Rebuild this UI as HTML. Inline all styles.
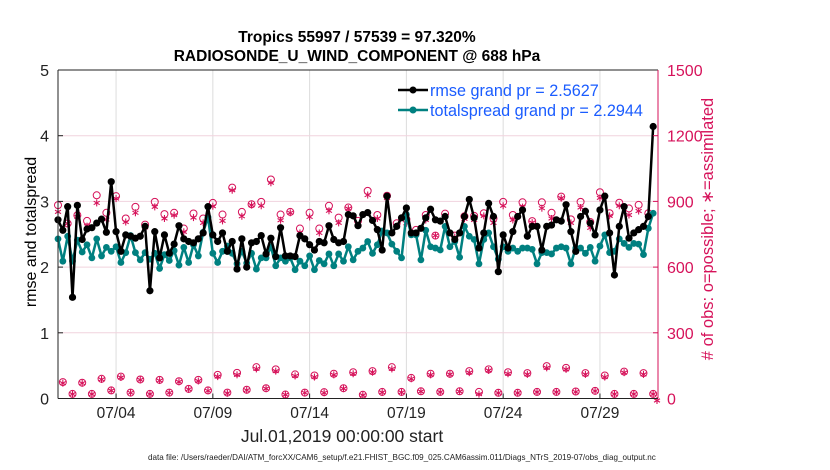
<!DOCTYPE html>
<html><head><meta charset="utf-8"><style>
body{margin:0;background:#fff;}
svg{display:block;font-family:"Liberation Sans",sans-serif;}
</style></head><body>
<svg id="chart" width="830" height="470" viewBox="0 0 830 470">
<rect width="830" height="470" fill="#fff"/>
<g id="grid"></g>
<g id="plot"></g>
<g id="axes"></g>
<text x="357" y="42" text-anchor="middle" font-size="15.5" font-weight="bold">Tropics 55997 / 57539 = 97.320%</text>
<text x="357" y="61" text-anchor="middle" font-size="15.5" font-weight="bold">RADIOSONDE_U_WIND_COMPONENT @ 688 hPa</text>
<text transform="translate(36,232) rotate(-90)" text-anchor="middle" font-size="16">rmse and totalspread</text>
<text transform="translate(713,229) rotate(-90)" text-anchor="middle" font-size="16.5" fill="#d6125a"># of obs: o=possible; ∗=assimilated</text>
<text x="342" y="442" text-anchor="middle" font-size="17.5" fill="#222">Jul.01,2019 00:00:00 start</text>
<text x="148" y="460" font-size="8.1" fill="#222">data file: /Users/raeder/DAI/ATM_forcXX/CAM6_setup/f.e21.FHIST_BGC.f09_025.CAM6assim.011/Diags_NTrS_2019-07/obs_diag_output.nc</text>
<g>
<line x1="398" y1="90" x2="428" y2="90" stroke="#000" stroke-width="2.5"/>
<circle cx="413" cy="90" r="3.5" fill="#000"/>
<text x="430" y="96" font-size="16.2" fill="#1a5cff">rmse grand pr = 2.5627</text>
<line x1="398" y1="110" x2="428" y2="110" stroke="#008080" stroke-width="2.5"/>
<circle cx="413" cy="110" r="3.5" fill="#008080"/>
<text x="430" y="116" font-size="16.2" fill="#1a5cff">totalspread grand pr = 2.2944</text>
</g>
</svg>
<script>
const rmse=[2.72,2.56,2.92,1.54,2.94,2.42,2.58,2.6,2.67,2.73,2.53,3.30,2.54,2.24,2.49,2.47,2.44,2.47,2.62,1.64,2.54,2.14,2.49,2.21,2.35,2.63,2.43,2.39,2.37,2.43,2.52,2.92,2.49,2.39,2.52,2.24,2.39,1.97,2.43,2.0,2.37,2.39,2.48,2.2,2.44,2.16,2.60,2.17,2.17,2.16,2.48,2.43,2.34,2.26,2.39,2.37,2.63,2.42,2.37,2.39,2.80,2.78,
2.63,2.80,2.83,2.71,2.57,2.26,3.08,2.52,2.62,2.75,2.90,2.52,2.52,2.59,2.75,2.88,2.72,2.70,2.77,2.52,2.42,2.52,2.77,3.03,2.75,2.29,2.52,2.97,2.77,1.93,2.49,2.29,2.54,2.77,2.87,2.47,2.62,2.62,2.26,2.62,2.64,2.72,2.70,2.95,2.54,2.24,2.77,2.85,2.67,2.49,2.87,3.08,2.52,1.88,2.62,2.92,2.44,2.52,2.57,2.62,2.77,4.14];
const spread=[2.43,2.09,2.47,2.09,2.41,2.23,2.34,2.14,2.43,2.17,2.30,2.24,2.31,2.07,2.22,2.48,2.22,2.11,2.22,2.12,2.21,1.98,2.19,2.10,2.25,2.03,2.30,2.07,2.34,2.17,2.53,2.76,2.21,2.07,2.24,2.32,2.21,2.05,2.24,2.06,2.21,1.97,2.14,2.14,2.31,2.02,2.14,2.09,2.14,1.96,2.09,2.02,2.17,1.96,2.10,2.05,2.20,2.02,2.20,2.09,2.31,2.11,
2.24,2.29,2.39,2.21,2.34,2.55,2.52,2.35,2.24,2.14,2.80,2.49,2.49,2.11,2.56,2.31,2.29,2.26,2.62,2.31,2.39,2.15,2.62,2.47,2.42,2.05,2.42,2.52,2.31,2.12,2.31,2.24,2.29,2.24,2.29,2.29,2.27,2.05,2.22,2.22,2.20,2.29,2.31,2.29,2.05,2.29,2.29,2.21,2.30,2.09,2.32,2.49,2.22,2.24,2.43,2.36,2.30,2.36,2.35,2.19,2.59,2.82];
const possibleHigh=[883,799,837,811,928,848,924,822,875,794,898,842,848,776,845,822,893,840,963,852,887,898,1000,840,852,776,848,776,880,826,872,
811,948,838,926,800,818,770,838,744,844,744,832,834,846,822,898,838,896,810,896,848,922,818,898,806,942,846,894,868,884,846];
const assimHigh=[852,799,829,787,893,817,913,806,848,781,875,822,837,761,826,802,878,811,951,832,883,880,985,814,848,756,829,756,857,802,867,
790,929,822,915,787,800,754,815,744,832,737,820,815,834,802,880,815,874,803,869,822,915,802,872,779,916,834,880,838,856,830];
const possibleLow=[75,21,72,21,90,37,100,27,87,21,85,27,79,44,85,37,108,27,117,40,143,47,133,18,110,27,105,29,113,47,120,17,125,30,143,30,94,33,113,30,113,33,125,30,133,26,120,26,116,30,148,30,140,32,116,35,105,21,123,21,116,21];
const assimLow=[70,20,70,20,87,36,96,26,85,20,82,26,76,42,80,35,100,24,108,38,135,45,125,17,103,26,98,26,108,45,113,15,120,28,135,28,90,32,108,29,110,32,118,20,128,25,113,25,110,29,140,29,133,30,110,34,98,20,118,20,110,20];
const tickDays=[3,8,13,18,23,28];
const tickLabels=["07/04","07/09","07/14","07/19","07/24","07/29"];
const leftTicks=[0,1,2,3,4,5];
const rightTicks=[0,300,600,900,1200,1500];

const X0=58,X1=658,Y0=398.5,Y1=70,DAYS=31;
const xs=d=>X0+d/DAYS*(X1-X0);
const ys=v=>Y0-v/5*(Y0-Y1);
const yr=c=>Y0-c/1500*(Y0-Y1);
const tOf=i=>i*0.25;
const NS="http://www.w3.org/2000/svg";
function mk(parent,tag,attrs){const e=document.createElementNS(NS,tag);for(const k in attrs)e.setAttribute(k,attrs[k]);parent.appendChild(e);return e;}
const grid=document.getElementById('grid'),plot=document.getElementById('plot'),axes=document.getElementById('axes');
const RED="#d6125a";

tickDays.forEach((d,k)=>{
 const g=mk(grid,'line',{x1:xs(d),x2:xs(d),y1:Y1,y2:Y0,stroke:'#dcdcdc','stroke-width':1});
 
 
 const t=mk(axes,'text',{x:xs(d),y:418,'text-anchor':'middle','font-size':15.5,fill:'#222'});
 t.textContent=tickLabels[k];
 
 
 const tk=mk(axes,'line',{x1:xs(d),x2:xs(d),y1:Y0,y2:Y0-5,stroke:'#222'});
 
 
});
rightTicks.forEach(c=>{
 if(c>0&&c<1500){const g=mk(grid,'line',{x1:X0,x2:X1,y1:yr(c),y2:yr(c),stroke:'#f1d3de','stroke-width':1});
 
 }
 const t=mk(axes,'text',{x:667,y:yr(c)+6,'font-size':16,fill:RED});
 t.textContent=c;
 
 
 const tk=mk(axes,'line',{x1:X1,x2:X1-5,y1:yr(c),y2:yr(c),stroke:RED});
 
 
});
leftTicks.forEach(v=>{
 const t=mk(axes,'text',{x:49,y:ys(v)+6,'text-anchor':'end','font-size':16,fill:'#222'});
 t.textContent=v;
 
 
 const tk=mk(axes,'line',{x1:X0,x2:X0+5,y1:ys(v),y2:ys(v),stroke:'#222'});
 
 
});
let a=mk(axes,'line',{x1:X0,x2:X0,y1:Y1,y2:Y0,stroke:'#222'});

a=mk(axes,'line',{x1:X0,x2:X1,y1:Y0,y2:Y0,stroke:'#222'});

a=mk(axes,'line',{x1:X0,x2:X1,y1:Y1,y2:Y1,stroke:'#222'});

a=mk(axes,'line',{x1:X1,x2:X1,y1:Y1,y2:Y0,stroke:RED});


function star(x,y,name){
 const g=mk(plot,'g',{stroke:RED,'stroke-width':1.1});
 
 
 for(const [dx,dy] of [[0,3.5],[3,1.75],[3,-1.75]]) mk(g,'line',{x1:x-dx,y1:y-dy,x2:x+dx,y2:y+dy});
}
function obs(arrP,arrA,offset){
 arrP.forEach((c,k)=>{
  const x=xs(tOf(2*k+offset));
  const o=mk(plot,'circle',{cx:x,cy:yr(c),r:3.5,fill:'none',stroke:RED,'stroke-width':1});
  
  
  star(x,yr(arrA[k]),'obs-assimilated-marker');
 });
}
obs(possibleHigh,assimHigh,0);
obs(possibleLow,assimLow,1);
star(xs(DAYS)-1,yr(0)+2,'obs-assimilated-marker');

function series(vals,color,name,r){
 const pts=vals.map((v,i)=>xs(tOf(i))+','+ys(v)).join(' ');
 const pl=mk(plot,'polyline',{points:pts,fill:'none',stroke:color,'stroke-width':2.5,'stroke-linejoin':'round'});
 
 
 vals.forEach((v,i)=>{
  const c=mk(plot,'circle',{cx:xs(tOf(i)),cy:ys(v),r:r,fill:color});
  
  
 });
}
series(spread,'#008080','spread',3.4);
series(rmse,'#000','rmse',3.6);
</script>
</body></html>
